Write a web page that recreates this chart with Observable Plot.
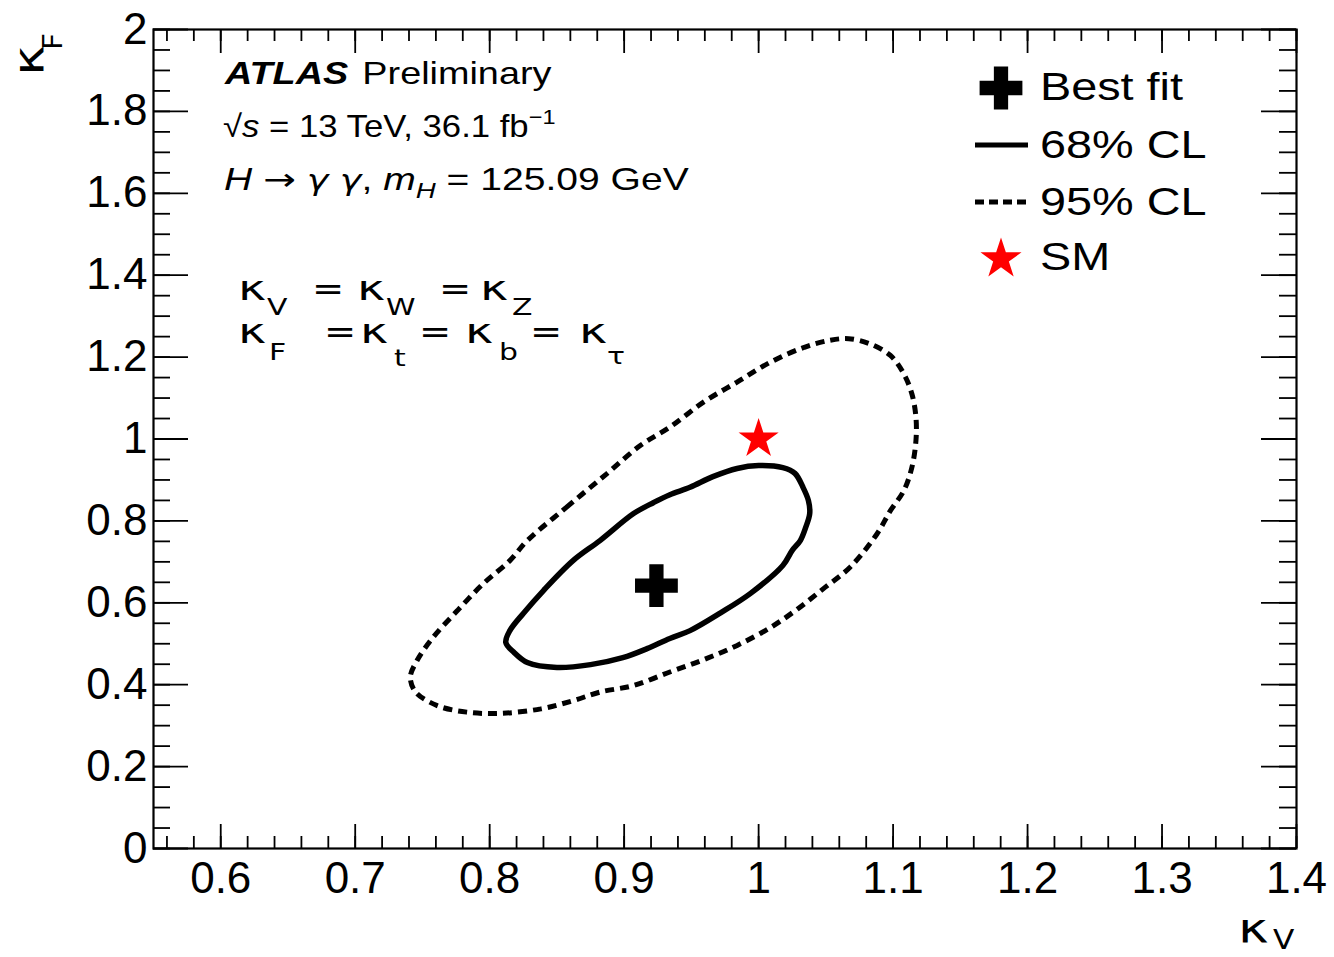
<!DOCTYPE html>
<html>
<head>
<meta charset="utf-8">
<script src="https://cdn.jsdelivr.net/npm/d3@7"></script>
<script src="https://cdn.jsdelivr.net/npm/@observablehq/plot@0.6"></script>
<style>
  html, body { margin: 0; padding: 0; background: #fff; }
  #chart svg { display: block; }
</style>
</head>
<body>
<div id="chart"></div>
<script>
// Two-dimensional likelihood scan of the coupling modifiers (kappa_V, kappa_F)

// Best-fit point and Standard Model expectation
const bestFit = [0.924, 0.642];
const smPoint = [1.0, 1.0];

// 68% CL contour (kappa_V, kappa_F)
const cl68 = [
  [0.882, 0.752], [0.907, 0.818], [0.922, 0.845], [0.934, 0.864], [0.949, 0.882],
  [0.966, 0.908], [0.984, 0.928], [1.000, 0.935], [1.018, 0.930], [1.027, 0.916],
  [1.033, 0.882], [1.037, 0.850], [1.038, 0.818], [1.035, 0.784], [1.031, 0.752],
  [1.025, 0.728], [1.018, 0.691], [0.994, 0.623], [0.972, 0.576], [0.949, 0.532],
  [0.934, 0.513], [0.917, 0.488], [0.899, 0.466], [0.875, 0.449], [0.850, 0.442],
  [0.828, 0.454], [0.818, 0.479], [0.812, 0.503], [0.815, 0.532], [0.825, 0.574],
  [0.840, 0.630], [0.862, 0.703]
];

// 95% CL contour (kappa_V, kappa_F)
const cl95 = [
  [0.828, 0.752], [0.857, 0.833], [0.887, 0.915], [0.912, 0.984], [0.934, 1.029],
  [0.959, 1.090], [0.984, 1.139], [1.009, 1.188], [1.034, 1.224], [1.053, 1.241],
  [1.067, 1.245], [1.083, 1.232], [1.098, 1.204], [1.108, 1.159], [1.114, 1.110],
  [1.117, 1.053], [1.117, 0.996], [1.114, 0.931], [1.108, 0.874], [1.098, 0.825],
  [1.088, 0.768], [1.068, 0.687], [1.048, 0.634], [1.029, 0.585], [1.009, 0.540],
  [0.984, 0.496], [0.959, 0.461], [0.934, 0.431], [0.907, 0.398], [0.882, 0.382],
  [0.862, 0.361], [0.838, 0.341], [0.808, 0.330], [0.783, 0.333], [0.761, 0.349],
  [0.745, 0.382], [0.741, 0.418], [0.746, 0.459], [0.758, 0.516], [0.776, 0.581],
  [0.795, 0.646], [0.815, 0.703]
];

// Axis ticks and their labels
const xTicks = [0.6, 0.7, 0.8, 0.9, 1.0, 1.1, 1.2, 1.3, 1.4];
const xTickLabels = ["0.6", "0.7", "0.8", "0.9", "1", "1.1", "1.2", "1.3", "1.4"];
const yTicks = [0, 0.2, 0.4, 0.6, 0.8, 1.0, 1.2, 1.4, 1.6, 1.8, 2.0];
const yTickLabels = ["0", "0.2", "0.4", "0.6", "0.8", "1", "1.2", "1.4", "1.6", "1.8", "2"];
const xMinor = d3.range(56, 141, 2).map(v => v / 100);
const yMinor = d3.range(0, 201, 5).map(v => v / 100);

// Legend entries
const legendLabels = ["Best fit", "68% CL", "95% CL", "SM"];

// Layout
const W = 1334, H = 957;
const mL = 153, mR = 38, mT = 29, mB = 109;
const innerW = W - mL - mR, innerH = H - mT - mB;
const helv = "'Liberation Sans', Arial, Helvetica, sans-serif";
const greek = "'DejaVu Sans', sans-serif";
const SX = 1.2; // horizontal stretch of the lettering

const px = d => d[0], py = d => d[1];

const plot = Plot.plot({
  width: W,
  height: H,
  marginLeft: mL, marginRight: mR, marginTop: mT, marginBottom: mB,
  x: { domain: [0.55, 1.4], axis: null, label: null },
  y: { domain: [0, 2], axis: null, label: null },
  style: { background: "#fff", fontFamily: helv },
  marks: [
    // contours
    Plot.line(cl95, { x: px, y: py, curve: "catmull-rom-closed", stroke: "#000",
      strokeWidth: 5, strokeDasharray: "9,6", strokeLinecap: "butt", strokeLinejoin: "miter" }),
    Plot.line(cl68, { x: px, y: py, curve: "catmull-rom-closed", stroke: "#000",
      strokeWidth: 5.5 }),
    // best fit and SM markers
    Plot.dot([bestFit], { x: px, y: py, symbol: "cross", r: 18, fill: "#000", stroke: "none" }),
    Plot.dot([smPoint], { x: px, y: py, symbol: "star", r: 12.6, fill: "#ff0000", stroke: "none" }),
    // inward ticks on all four sides
    Plot.tickX(xMinor, { x: d => d, insetTop: innerH - 12, strokeWidth: 1.8 }),
    Plot.tickX(xMinor, { x: d => d, insetBottom: innerH - 12, strokeWidth: 1.8 }),
    Plot.tickX(xTicks, { x: d => d, insetTop: innerH - 24, strokeWidth: 1.8 }),
    Plot.tickX(xTicks, { x: d => d, insetBottom: innerH - 24, strokeWidth: 1.8 }),
    Plot.tickY(yMinor, { y: d => d, insetRight: innerW - 17, strokeWidth: 1.8 }),
    Plot.tickY(yMinor, { y: d => d, insetLeft: innerW - 17, strokeWidth: 1.8 }),
    Plot.tickY(yTicks, { y: d => d, insetRight: innerW - 35, strokeWidth: 1.8 }),
    Plot.tickY(yTicks, { y: d => d, insetLeft: innerW - 35, strokeWidth: 1.8 }),
    // tick labels
    Plot.text(xTicks, { x: d => d, text: (d, i) => xTickLabels[i], frameAnchor: "bottom",
      lineAnchor: "top", dy: 13, fontSize: 44, fontFamily: helv, fill: "#000", ariaLabel: "tick-label" }),
    Plot.text(yTicks, { y: d => d, text: (d, i) => yTickLabels[i], frameAnchor: "left",
      textAnchor: "end", lineAnchor: "middle", dx: -6, fontSize: 44, fontFamily: helv, fill: "#000", ariaLabel: "tick-label" }),
    Plot.frame({ stroke: "#000", strokeWidth: 2.2 })
  ]
});

document.getElementById("chart").appendChild(plot);

const svg = d3.select(plot);
svg.selectAll('g[aria-label="tick-label"] text').attr("transform", function () {
  return (this.getAttribute("transform") || "") + ` scale(${SX},1)`;
});

const ann = svg.append("g").attr("class", "annotations");

// Text helper: a line made of styled runs, stretched horizontally
function label(x, y, parts, { size, family = helv, sx = SX, rotate = 0, anchor = "start" }) {
  const t = ann.append("text")
    .attr("transform", `translate(${x},${y})${rotate ? ` rotate(${rotate})` : ""} scale(${sx},1)`)
    .attr("font-family", family)
    .attr("font-size", size)
    .attr("text-anchor", anchor)
    .attr("fill", "#000");
  for (const p of parts) {
    const s = t.append("tspan").text(p.t);
    if (p.size) s.attr("font-size", p.size);
    if (p.weight) s.attr("font-weight", p.weight);
    if (p.style) s.attr("font-style", p.style);
    if (p.family) s.attr("font-family", p.family);
    if (p.dy) s.attr("dy", p.dy);
    if (p.dx) s.attr("dx", p.dx);
  }
  return t;
}

// Experiment label block
label(225, 84, [{ t: "ATLAS", weight: "bold", style: "italic" }, { t: " Preliminary", dx: 3 }], { size: 31, sx: 1.22 });
label(223, 137, [
  { t: "√" }, { t: "s", style: "italic" }, { t: " = 13 TeV, 36.1 fb" },
  { t: "−1", size: 21, dy: -13 }
], { size: 31, sx: 1.12 });
label(224, 190, [
  { t: "H", style: "italic" }, { t: " " }, { t: "→", family: greek }, { t: " " },
  { t: "γ γ", style: "italic", family: greek, size: 29 }, { t: ", " },
  { t: "m", style: "italic" }, { t: "H", style: "italic", size: 22, dy: 8 },
  { t: " = 125.09 GeV", dy: -8 }
], { size: 31, sx: 1.26 });

// Coupling relations
const kSize = 33, kSX = 1.45, eqSize = 32, eqSX = 1.2, subSize = 23, subSX = 1.3;
function kappa(x, y, sub, subX, subY) {
  label(x, y, [{ t: "κ" }], { size: kSize, family: greek, sx: kSX });
  label(subX, subY, [{ t: sub }], { size: subSize, family: greek, sx: subSX });
}
function eq(x, y) { label(x, y, [{ t: "=" }], { size: eqSize, family: greek, sx: eqSX }); }

kappa(238, 300, "V", 267, 315); eq(312, 300);
kappa(357, 300, "W", 386, 315); eq(439, 300);
kappa(480, 300, "Z", 512, 315);

kappa(238, 343, "F", 269, 360); eq(324, 343);
kappa(360, 343, "t", 394, 366); eq(419, 343);
kappa(465, 343, "b", 499, 360); eq(530, 343);
kappa(579, 343, "τ", 607, 364);

// Axis titles
label(1238, 942, [{ t: "κ" }], { size: 40, family: greek, sx: 1.3 });
label(1273, 949, [{ t: "V" }], { size: 26, family: greek, sx: 1.2 });
label(43, 76, [{ t: "κ" }], { size: 42, family: greek, sx: 1.25, rotate: -90 });
label(62, 50, [{ t: "F" }], { size: 27, family: greek, sx: 1.1, rotate: -90 });

// Legend
const leg = svg.append("g").attr("class", "legend");
const legX = 1001, legTextX = 1040;
const rowY = [88, 145, 202, 259];
const baseY = [100, 158, 215, 270];
leg.append("path")
  .attr("transform", `translate(${legX},${rowY[0]})`)
  .attr("d", d3.symbol(d3.symbolCross, Math.PI * 18 * 18)())
  .attr("fill", "#000");
leg.append("line").attr("x1", 975).attr("x2", 1028).attr("y1", rowY[1]).attr("y2", rowY[1])
  .attr("stroke", "#000").attr("stroke-width", 5);
leg.append("line").attr("x1", 975).attr("x2", 1028).attr("y1", rowY[2]).attr("y2", rowY[2])
  .attr("stroke", "#000").attr("stroke-width", 5).attr("stroke-dasharray", "9,5");
leg.append("path")
  .attr("transform", `translate(${legX},${rowY[3]})`)
  .attr("d", d3.symbol(d3.symbolStar, Math.PI * 12.9 * 12.9)())
  .attr("fill", "#ff0000");
legendLabels.forEach((s, i) => label(legTextX, baseY[i], [{ t: s }], { size: 39 }));
</script>
</body>
</html>
